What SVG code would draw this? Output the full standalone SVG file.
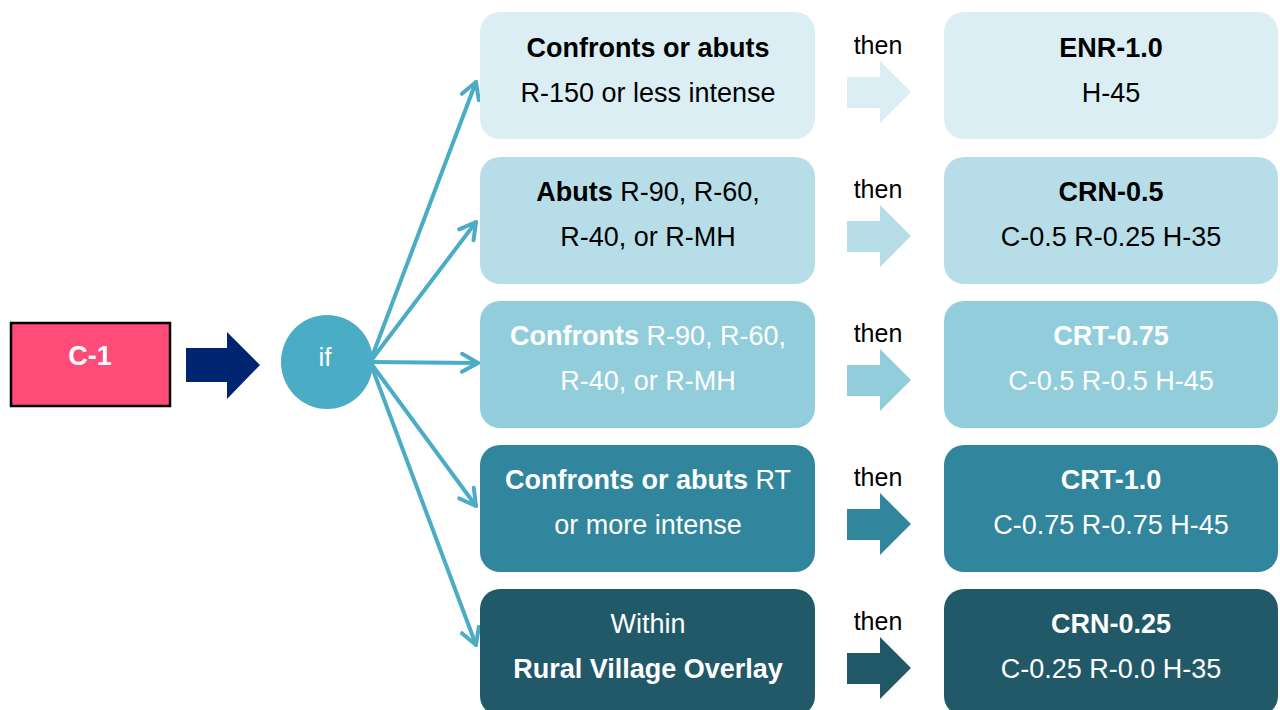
<svg xmlns="http://www.w3.org/2000/svg" width="1280" height="710" viewBox="0 0 1280 710">
<style>
text{font-family:"Liberation Sans",Arial,sans-serif;font-size:27px;text-anchor:middle}
.b{font-weight:bold}
.dk{fill:#000}
.wt{fill:#fff}
.then{font-size:25px;fill:#000}
.fan{stroke:#4BACC6;stroke-width:4;fill:none;stroke-linecap:round}
.c1{fill:#DAEEF3}.c2{fill:#B7DEE8}.c3{fill:#92CDDC}.c4{fill:#31859C}.c5{fill:#215968}
</style>
<defs>
<marker id="chev" viewBox="0 0 12 12" refX="10" refY="6" markerWidth="6" markerHeight="6" orient="auto" markerUnits="strokeWidth">
<path d="M2,1.5 L10,6 L2,10.5" fill="none" stroke="#4BACC6" stroke-width="2" stroke-linecap="round" stroke-linejoin="round"/>
</marker>
<path id="fat" d="M0,16 H33 V0 L64,31 L33,62 V47 H0 Z"/>
</defs>
<rect width="1280" height="710" fill="#fff"/>

<g id="c1">
<rect x="11" y="323" width="159" height="83" fill="#FF4B78" stroke="#000" stroke-width="2.5"/>
<text x="90" y="365" class="b wt">C-1</text>
</g>
<g id="navyArrow">
<path d="M186,348 H227 V332 L260,365 L227,399 V382 H186 Z" fill="#002570"/>
</g>
<g id="ifNode">
<ellipse cx="327" cy="362" rx="46" ry="47" fill="#4BACC6"/>
<text x="325" y="366" class="wt" style="font-size:26px">if</text>
</g>

<g id="connectors">
<line class="fan" x1="370" y1="362" x2="476" y2="82" marker-end="url(#chev)"/>
<line class="fan" x1="370" y1="362" x2="476" y2="222" marker-end="url(#chev)"/>
<line class="fan" x1="370" y1="362" x2="478" y2="363" marker-end="url(#chev)"/>
<line class="fan" x1="370" y1="362" x2="476" y2="506" marker-end="url(#chev)"/>
<line class="fan" x1="370" y1="362" x2="476" y2="645" marker-end="url(#chev)"/>
</g>

<g id="row1">
<rect x="480" y="12" width="335" height="127" rx="20" class="c1"/>
<text x="648" y="57" class="b dk">Confronts or abuts</text>
<text x="648" y="102" class="dk">R-150 or less intense</text>
<text x="878" y="54" class="then">then</text>
<use href="#fat" x="847" y="61" class="c1"/>
<rect x="944" y="12" width="334" height="127" rx="20" class="c1"/>
<text x="1111" y="57" class="b dk">ENR-1.0</text>
<text x="1111" y="102" class="dk">H-45</text>
</g>

<g id="row2">
<rect x="480" y="157" width="335" height="127" rx="20" class="c2"/>
<text x="648" y="201" class="dk"><tspan class="b">Abuts</tspan> R-90, R-60,</text>
<text x="648" y="246" class="dk">R-40, or R-MH</text>
<text x="878" y="198" class="then">then</text>
<use href="#fat" x="847" y="205" class="c2"/>
<rect x="944" y="157" width="334" height="127" rx="20" class="c2"/>
<text x="1111" y="201" class="b dk">CRN-0.5</text>
<text x="1111" y="246" class="dk">C-0.5 R-0.25 H-35</text>
</g>

<g id="row3">
<rect x="480" y="301" width="335" height="127" rx="20" class="c3"/>
<text x="648" y="345" class="wt"><tspan class="b">Confronts</tspan> R-90, R-60,</text>
<text x="648" y="390" class="wt">R-40, or R-MH</text>
<text x="878" y="342" class="then">then</text>
<use href="#fat" x="847" y="349" class="c3"/>
<rect x="944" y="301" width="334" height="127" rx="20" class="c3"/>
<text x="1111" y="345" class="b wt">CRT-0.75</text>
<text x="1111" y="390" class="wt">C-0.5 R-0.5 H-45</text>
</g>

<g id="row4">
<rect x="480" y="445" width="335" height="127" rx="20" class="c4"/>
<text x="648" y="489" class="wt"><tspan class="b">Confronts or abuts</tspan> RT</text>
<text x="648" y="534" class="wt">or more intense</text>
<text x="878" y="486" class="then">then</text>
<use href="#fat" x="847" y="493" class="c4"/>
<rect x="944" y="445" width="334" height="127" rx="20" class="c4"/>
<text x="1111" y="489" class="b wt">CRT-1.0</text>
<text x="1111" y="534" class="wt">C-0.75 R-0.75 H-45</text>
</g>

<g id="row5">
<rect x="480" y="589" width="335" height="127" rx="20" class="c5"/>
<text x="648" y="633" class="wt">Within</text>
<text x="648" y="678" class="b wt">Rural Village Overlay</text>
<text x="878" y="630" class="then">then</text>
<use href="#fat" x="847" y="637" class="c5"/>
<rect x="944" y="589" width="334" height="127" rx="20" class="c5"/>
<text x="1111" y="633" class="b wt">CRN-0.25</text>
<text x="1111" y="678" class="wt">C-0.25 R-0.0 H-35</text>
</g>
</svg>
